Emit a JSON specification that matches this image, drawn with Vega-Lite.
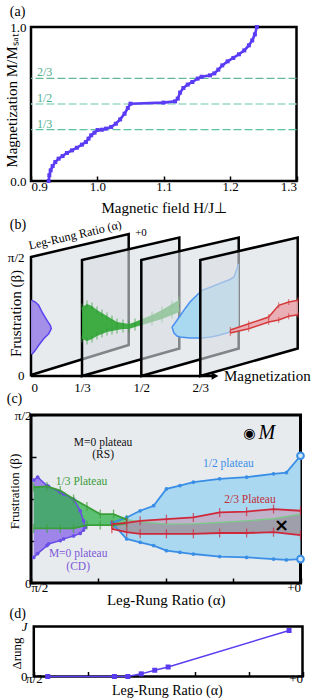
{
 "$schema": "https://vega.github.io/schema/vega-lite/v6.json",
 "padding": {"left": 3, "top": 3, "right": 0, "bottom": 0},
 "bounds": "flush",
 "spacing": 34,
 "resolve": {"scale": {"color": "independent"}},
 "config": {
  "view": {"stroke": null},
  "font": "Liberation Serif",
  "axis": {"labelFont": "Liberation Serif", "titleFont": "Liberation Serif", "labelColor": "black", "titleColor": "black", "titleFontWeight": "normal", "labelFontSize": 13, "titleFontSize": 15, "domain": false, "grid": false, "tickColor": "black", "tickWidth": 1.5},
  "text": {"font": "Liberation Serif"}
 },
 "datasets": {
  "a_curve": [
   {"H":0.9266,"M":0.0},{"H":0.9276,"M":0.037},{"H":0.9296,"M":0.069},{"H":0.9326,"M":0.097},{"H":0.9366,"M":0.123},{"H":0.9416,"M":0.145},{"H":0.9476,"M":0.162},{"H":0.9541,"M":0.182},{"H":0.9617,"M":0.199},{"H":0.9692,"M":0.216},{"H":0.9767,"M":0.236},{"H":0.9827,"M":0.253},{"H":0.9867,"M":0.275},{"H":0.9907,"M":0.297},{"H":0.9957,"M":0.314},{"H":1.0003,"M":0.331},{"H":1.0068,"M":0.333},{"H":1.0128,"M":0.34},{"H":1.0208,"M":0.351},{"H":1.0278,"M":0.372},{"H":1.0343,"M":0.4},{"H":1.0409,"M":0.437},{"H":1.0459,"M":0.474},{"H":1.0499,"M":0.502},{"H":1.0995,"M":0.509},{"H":1.117,"M":0.517},{"H":1.1211,"M":0.535},{"H":1.1246,"M":0.574},{"H":1.1296,"M":0.604},{"H":1.1361,"M":0.626},{"H":1.1431,"M":0.643},{"H":1.1511,"M":0.665},{"H":1.1571,"M":0.677},{"H":1.1697,"M":0.686},{"H":1.1762,"M":0.699},{"H":1.1822,"M":0.723},{"H":1.1882,"M":0.751},{"H":1.1962,"M":0.777},{"H":1.2048,"M":0.799},{"H":1.2133,"M":0.823},{"H":1.2213,"M":0.848},{"H":1.2283,"M":0.881},{"H":1.2333,"M":0.913},{"H":1.2373,"M":0.952},{"H":1.2403,"M":1.0}
  ],
  "a_levels": [{"level":0.3333,"label":"1/3"},{"level":0.5,"label":"1/2"},{"level":0.6667,"label":"2/3"}],
  "b_frames": [
   {"f":1,"u":0,"top":119,"bot":1},{"f":1,"u":97.7,"top":142,"bot":31},
   {"f":2,"u":51,"top":116,"bot":0},{"f":2,"u":148.3,"top":138.5,"bot":27.5},
   {"f":3,"u":110.3,"top":116,"bot":0},{"f":3,"u":207.7,"top":138.5,"bot":27.5},
   {"f":4,"u":169.3,"top":116,"bot":0},{"f":4,"u":266.7,"top":138.5,"bot":27.5}
  ],
  "b_purple": [
   {"v":75.7,"u":1},{"v":74,"u":4.3},{"v":70.7,"u":7.7},{"v":64,"u":11},{"v":55.7,"u":16},{"v":50.7,"u":19.3},{"v":47.3,"u":20.3},{"v":42.3,"u":17.7},{"v":37.3,"u":12.7},{"v":30.7,"u":7.7},{"v":25.7,"u":4.3},{"v":21.7,"u":1}
  ],
  "b_green": [
   {"u":51,"top":69,"bot":37},{"u":56,"top":72,"bot":35},{"u":61,"top":70,"bot":37},{"u":66,"top":66,"bot":40},{"u":71,"top":63,"bot":42},{"u":76,"top":60,"bot":44},{"u":81,"top":57,"bot":45},{"u":86,"top":54,"bot":46},{"u":92,"top":53,"bot":47},{"u":98,"top":52,"bot":47},{"u":104,"top":54,"bot":49},{"u":111,"top":57,"bot":51},{"u":121,"top":61,"bot":54},{"u":131,"top":66,"bot":57},{"u":141,"top":72,"bot":61},{"u":148,"top":76,"bot":64}
  ],
  "b_blue": [
   {"u":141,"top":49,"bot":49},{"u":143,"top":51.5,"bot":43},{"u":146,"top":55.7,"bot":40},{"u":149,"top":60,"bot":39},{"u":154,"top":67.3,"bot":38.5},{"u":159,"top":74,"bot":38},{"u":163,"top":78,"bot":38},{"u":171,"top":85.7,"bot":38},{"u":180,"top":89,"bot":39},{"u":188,"top":92.3,"bot":40.7},{"u":199,"top":96.5,"bot":44},{"u":203,"top":99,"bot":45},{"u":206,"top":107.3,"bot":45.7},{"u":207.7,"top":112.3,"bot":46}
  ],
  "b_red": [
   {"u":199.3,"top":46,"bot":43},{"u":217.7,"top":52.3,"bot":47.3},{"u":237.7,"top":59,"bot":54},{"u":247.7,"top":70.7,"bot":56},{"u":257.7,"top":74,"bot":59.7},{"u":267,"top":75.7,"bot":61.3}
  ],
  "c_blue": [
   {"x":1.2,"top":1.43,"bot":1.43},{"x":1.42,"top":1.56,"bot":1.05},{"x":1.62,"top":1.72,"bot":0.97},{"x":1.82,"top":1.84,"bot":0.89},{"x":2.01,"top":2.24,"bot":0.77},{"x":2.21,"top":2.32,"bot":0.73},{"x":2.41,"top":2.4,"bot":0.69},{"x":2.8,"top":2.48,"bot":0.63},{"x":3.2,"top":2.52,"bot":0.61},{"x":3.6,"top":2.6,"bot":0.57},{"x":3.79,"top":2.63,"bot":0.55},{"x":4.0,"top":3.03,"bot":0.57}
  ],
  "c_green": [
   {"x":0.04,"top":2.28,"bot":1.3},{"x":0.237,"top":2.3,"bot":1.3},{"x":0.435,"top":2.2,"bot":1.3},{"x":0.632,"top":2.0,"bot":1.3},{"x":0.83,"top":1.82,"bot":1.38},{"x":1.027,"top":1.64,"bot":1.38},{"x":1.225,"top":1.64,"bot":1.38},{"x":1.42,"top":1.51,"bot":1.42}
  ],
  "c_purple": [
   {"x":0.04,"top":2.45,"bot":0.61},{"x":0.099,"top":2.52,"bot":0.7},{"x":0.237,"top":2.32,"bot":0.89},{"x":0.26,"top":2.3,"bot":0.93},{"x":0.435,"top":2.16,"bot":1.01},{"x":0.484,"top":2.12,"bot":1.05},{"x":0.632,"top":2.0,"bot":1.12},{"x":0.73,"top":1.72,"bot":1.18},{"x":0.78,"top":1.48,"bot":1.26},{"x":0.805,"top":1.33,"bot":1.33}
  ],
  "c_red": [
   {"x":1.2,"top":1.4,"bot":1.29},{"x":1.42,"top":1.43,"bot":1.21},{"x":1.62,"top":1.48,"bot":1.17},{"x":2.01,"top":1.52,"bot":1.17},{"x":2.41,"top":1.56,"bot":1.17},{"x":2.8,"top":1.68,"bot":1.19},{"x":3.2,"top":1.7,"bot":1.19},{"x":3.6,"top":1.76,"bot":1.21},{"x":4.0,"top":1.72,"bot":1.14}
  ],
  "c_hatch": [
   {"x":1.2,"top":1.36,"bot":1.33},{"x":1.42,"top":1.51,"bot":1.21},{"x":1.62,"top":1.46,"bot":1.17},{"x":2.01,"top":1.4,"bot":1.17},{"x":2.41,"top":1.41,"bot":1.17},{"x":2.8,"top":1.44,"bot":1.19},{"x":3.2,"top":1.48,"bot":1.19},{"x":3.6,"top":1.53,"bot":1.21},{"x":4.0,"top":1.64,"bot":1.14}
  ],
  "c_texts": [
   {"x":1.07,"y":3.34,"text":"M=0 plateau","grp":"rs"},
   {"x":1.07,"y":3.04,"text":"(RS)","grp":"rs"},
   {"x":0.75,"y":2.4,"text":"1/3 Plateau","grp":"green"},
   {"x":2.93,"y":2.84,"text":"1/2 plateau","grp":"blue"},
   {"x":3.25,"y":1.97,"text":"2/3 Plateau","grp":"red"},
   {"x":0.7,"y":0.68,"text":"M=0 plateau","grp":"purple"},
   {"x":0.7,"y":0.38,"text":"(CD)","grp":"purple"}
  ],
  "d_gap": [
   {"a":0.26,"g":0},{"a":1.5,"g":0},{"a":1.75,"g":0},{"a":2.0,"g":0.053},{"a":2.25,"g":0.125},{"a":2.5,"g":0.19},{"a":4.75,"g":0.92}
  ]
 },
 "vconcat": [
  {
   "width": 265.5, "height": 154,
   "view": {"stroke": "black", "strokeWidth": 2.5},
   "layer": [
    {
     "data": {"name": "a_levels"},
     "mark": {"type": "rule", "strokeDash": [8, 3], "strokeWidth": 1.4},
     "encoding": {
      "y": {"field": "level", "type": "quantitative"},
      "color": {"field": "label", "type": "nominal", "scale": {"domain": ["1/3", "1/2", "2/3"], "range": ["#5cc4a0", "#9cdcc2", "#62b896"]}, "legend": null}
     }
    },
    {
     "data": {"name": "a_levels"},
     "mark": {"type": "text", "align": "left", "baseline": "alphabetic", "dy": -2, "fontSize": 12, "color": "#4cae8c"},
     "encoding": {
      "x": {"datum": 0.909, "type": "quantitative"},
      "y": {"field": "level", "type": "quantitative"},
      "text": {"field": "label"}
     }
    },
    {
     "data": {"name": "a_curve"},
     "mark": {"type": "line", "color": "#5b3cf5", "strokeWidth": 2.6, "point": {"filled": true, "shape": "square", "size": 16, "color": "#5b3cf5"}},
     "encoding": {
      "x": {"field": "H", "type": "quantitative", "scale": {"domain": [0.9, 1.3], "nice": false, "zero": false},
       "axis": {"values": [0.9, 1.0, 1.1, 1.2, 1.3], "format": ".1f", "tickSize": -5, "labelPadding": 4, "title": "Magnetic field  H/J⊥", "titleY": 26, "titleBaseline": "middle"}},
      "y": {"field": "M", "type": "quantitative", "scale": {"domain": [0, 1], "nice": false},
       "axis": {"values": [0, 1], "format": ".1f", "ticks": false, "labelPadding": 5, "title": "Magnetization  M/Mₛₐₜ", "titleX": -19.5, "titleY": 73, "titleAngle": 270, "titleBaseline": "middle", "titleAlign": "center"}}
     }
    },
    {
     "data": {"values": [{"t": "(a)"}]},
     "mark": {"type": "text", "align": "center", "baseline": "top", "fontSize": 14},
     "encoding": {
      "x": {"datum": 0.8797, "type": "quantitative"},
      "y": {"datum": 1.143, "type": "quantitative"},
      "text": {"field": "t"}
     }
    }
   ]
  },
  {
   "width": 266, "height": 166,
   "layer": [
    {
     "data": {"name": "b_frames"},
     "transform": [{"filter": "datum.f == 1"}],
     "mark": {"type": "area", "fill": "#d9dde2", "fillOpacity": 0.6, "stroke": "black", "strokeWidth": 2.5, "strokeJoin": "miter"},
     "encoding": {
      "x": {"field": "u", "type": "quantitative", "scale": {"domain": [0, 266], "nice": false, "zero": false},
       "axis": {"values": [0, 51, 110.3, 169.3], "labelExpr": "datum.value == 0 ? '0' : datum.value == 51 ? '1/3' : datum.value == 110.3 ? '1/2' : '2/3'", "ticks": false, "labelPadding": 0, "title": null}},
      "y": {"field": "top", "type": "quantitative", "scale": {"domain": [-5, 161], "nice": false, "zero": false},
       "axis": {"values": [1, 119], "labelExpr": "datum.value < 50 ? '0' : 'π/2'", "ticks": false, "labelPadding": 7, "title": "Frustration (β)", "titleX": -16, "titleY": 98, "titleAngle": 270, "titleBaseline": "middle", "titleAlign": "center"}},
      "y2": {"field": "bot"}
     }
    },
    {
     "data": {"name": "b_purple"},
     "mark": {"type": "area", "orient": "horizontal", "color": "#a08ae8", "opacity": 0.95},
     "encoding": {
      "y": {"field": "v", "type": "quantitative"},
      "x": {"field": "u", "type": "quantitative"},
      "x2": {"datum": 0}
     }
    },
    {
     "data": {"name": "b_purple"},
     "mark": {"type": "line", "color": "#5a45f0", "strokeWidth": 1.5},
     "encoding": {
      "y": {"field": "v", "type": "quantitative"},
      "x": {"field": "u", "type": "quantitative"},
      "order": {"field": "v"}
     }
    },
    {
     "data": {"name": "b_frames"},
     "transform": [{"filter": "datum.f == 2"}],
     "mark": {"type": "area", "fill": "#d9dde2", "fillOpacity": 0.6, "stroke": "black", "strokeWidth": 2.5, "strokeJoin": "miter"},
     "encoding": {
      "x": {"field": "u", "type": "quantitative"},
      "y": {"field": "top", "type": "quantitative"},
      "y2": {"field": "bot"}
     }
    },
    {
     "data": {"name": "b_green"},
     "mark": {"type": "area", "color": "#36a83a", "opacity": 0.95},
     "encoding": {
      "x": {"field": "u", "type": "quantitative"},
      "y": {"field": "top", "type": "quantitative"},
      "y2": {"field": "bot"}
     }
    },
    {
     "data": {"name": "b_green"},
     "transform": [{"fold": ["top", "bot"], "as": ["edge", "val"]}],
     "mark": {"type": "tick", "orient": "vertical", "size": 7, "thickness": 1, "color": "#2f9a35"},
     "encoding": {
      "x": {"field": "u", "type": "quantitative"},
      "y": {"field": "val", "type": "quantitative"}
     }
    },
    {
     "data": {"name": "b_frames"},
     "transform": [{"filter": "datum.f == 3"}],
     "mark": {"type": "area", "fill": "#d9dde2", "fillOpacity": 0.6, "stroke": "black", "strokeWidth": 2.5, "strokeJoin": "miter"},
     "encoding": {
      "x": {"field": "u", "type": "quantitative"},
      "y": {"field": "top", "type": "quantitative"},
      "y2": {"field": "bot"}
     }
    },
    {
     "data": {"name": "b_blue"},
     "mark": {"type": "area", "color": "#a9d9f1", "opacity": 1},
     "encoding": {
      "x": {"field": "u", "type": "quantitative"},
      "y": {"field": "top", "type": "quantitative"},
      "y2": {"field": "bot"}
     }
    },
    {
     "data": {"name": "b_blue"},
     "transform": [{"fold": ["top", "bot"], "as": ["edge", "val"]}],
     "mark": {"type": "line", "color": "#4a90ee", "strokeWidth": 1.5},
     "encoding": {
      "x": {"field": "u", "type": "quantitative"},
      "y": {"field": "val", "type": "quantitative"},
      "detail": {"field": "edge"}
     }
    },
    {
     "data": {"name": "b_frames"},
     "transform": [{"filter": "datum.f == 4"}],
     "mark": {"type": "area", "fill": "#d9dde2", "fillOpacity": 0.6, "stroke": "black", "strokeWidth": 2.5, "strokeJoin": "miter"},
     "encoding": {
      "x": {"field": "u", "type": "quantitative"},
      "y": {"field": "top", "type": "quantitative"},
      "y2": {"field": "bot"}
     }
    },
    {
     "data": {"name": "b_red"},
     "mark": {"type": "area", "color": "#eaa8ad", "opacity": 0.9},
     "encoding": {
      "x": {"field": "u", "type": "quantitative"},
      "y": {"field": "top", "type": "quantitative"},
      "y2": {"field": "bot"}
     }
    },
    {
     "data": {"name": "b_red"},
     "transform": [{"fold": ["top", "bot"], "as": ["edge", "val"]}],
     "mark": {"type": "line", "color": "#d43a3a", "strokeWidth": 1.5},
     "encoding": {
      "x": {"field": "u", "type": "quantitative"},
      "y": {"field": "val", "type": "quantitative"},
      "detail": {"field": "edge"}
     }
    },
    {
     "data": {"name": "b_red"},
     "transform": [{"fold": ["top", "bot"], "as": ["edge", "val"]}],
     "mark": {"type": "tick", "orient": "vertical", "size": 6, "thickness": 1, "color": "#d43a3a"},
     "encoding": {
      "x": {"field": "u", "type": "quantitative"},
      "y": {"field": "val", "type": "quantitative"}
     }
    },
    {
     "data": {"values": [{}]},
     "mark": {"type": "rule", "color": "black", "strokeWidth": 2.5},
     "encoding": {
      "x": {"datum": 0, "type": "quantitative"},
      "x2": {"datum": 182},
      "y": {"datum": 0, "type": "quantitative"}
     }
    },
    {
     "data": {"values": [{}]},
     "mark": {"type": "point", "shape": "triangle-right", "filled": true, "size": 60, "color": "black", "opacity": 1},
     "encoding": {
      "x": {"datum": 184, "type": "quantitative"},
      "y": {"datum": 0, "type": "quantitative"}
     }
    },
    {
     "data": {"values": [{"t": "Magnetization"}]},
     "mark": {"type": "text", "align": "left", "baseline": "middle", "fontSize": 15},
     "encoding": {
      "x": {"datum": 193, "type": "quantitative"},
      "y": {"datum": 0, "type": "quantitative"},
      "text": {"field": "t"}
     }
    },
    {
     "data": {"values": [{"t": "Leg-Rung Ratio (α)"}]},
     "mark": {"type": "text", "align": "center", "baseline": "middle", "fontSize": 12, "angle": 347},
     "encoding": {
      "x": {"datum": 44, "type": "quantitative"},
      "y": {"datum": 141, "type": "quantitative"},
      "text": {"field": "t"}
     }
    },
    {
     "data": {"values": [{"t": "+0"}]},
     "mark": {"type": "text", "align": "center", "baseline": "middle", "fontSize": 11},
     "encoding": {
      "x": {"datum": 110, "type": "quantitative"},
      "y": {"datum": 143, "type": "quantitative"},
      "text": {"field": "t"}
     }
    },
    {
     "data": {"values": [{"t": "(b)"}]},
     "mark": {"type": "text", "align": "center", "baseline": "middle", "fontSize": 14},
     "encoding": {
      "x": {"datum": -13, "type": "quantitative"},
      "y": {"datum": 151, "type": "quantitative"},
      "text": {"field": "t"}
     }
    }
   ]
  },
  {
   "width": 269.5, "height": 168,
   "view": {"fill": "#e8ebee", "stroke": "black", "strokeWidth": 3},
   "layer": [
    {
     "data": {"name": "c_blue"},
     "mark": {"type": "area", "color": "#a9d8f0", "opacity": 1},
     "encoding": {
      "x": {"field": "x", "type": "quantitative", "scale": {"domain": [0, 4], "nice": false, "zero": false},
       "axis": {"values": [0, 1, 2, 3, 4], "labelExpr": "datum.value == 0 ? 'π/2' : datum.value == 4 ? '+0' : ''", "tickSize": -5, "labelPadding": 3, "title": "Leg-Rung Ratio (α)", "titleY": 16, "titleBaseline": "middle"}},
      "y": {"field": "top", "type": "quantitative", "scale": {"domain": [0, 4], "nice": false, "zero": false},
       "axis": {"values": [0, 1, 2, 3, 4], "labelExpr": "datum.value == 0 ? '0' : datum.value == 4 ? 'π/2' : ''", "tickSize": -5, "labelPadding": 5, "title": "Frustration (β)", "titleFontSize": 13, "titleX": -16.5, "titleY": 76, "titleAngle": 270, "titleBaseline": "middle", "titleAlign": "center"}},
      "y2": {"field": "bot"}
     }
    },
    {
     "data": {"name": "c_purple"},
     "mark": {"type": "area", "color": "#9b80e8", "opacity": 0.95},
     "encoding": {
      "x": {"field": "x", "type": "quantitative"},
      "y": {"field": "top", "type": "quantitative"},
      "y2": {"field": "bot"}
     }
    },
    {
     "data": {"name": "c_green"},
     "mark": {"type": "area", "color": "#2fb34a", "opacity": 0.75},
     "encoding": {
      "x": {"field": "x", "type": "quantitative"},
      "y": {"field": "top", "type": "quantitative"},
      "y2": {"field": "bot"}
     }
    },
    {
     "data": {"name": "c_red"},
     "mark": {"type": "area", "color": "#e07a90", "opacity": 0.4},
     "encoding": {
      "x": {"field": "x", "type": "quantitative"},
      "y": {"field": "top", "type": "quantitative"},
      "y2": {"field": "bot"}
     }
    },
    {
     "data": {"name": "c_hatch"},
     "mark": {"type": "area", "color": "#7f898c", "opacity": 0.5},
     "encoding": {
      "x": {"field": "x", "type": "quantitative"},
      "y": {"field": "top", "type": "quantitative"},
      "y2": {"field": "bot"}
     }
    },
    {
     "data": {"name": "c_hatch"},
     "mark": {"type": "line", "color": "#7cc98a", "strokeWidth": 1.3},
     "encoding": {
      "x": {"field": "x", "type": "quantitative"},
      "y": {"field": "top", "type": "quantitative"}
     }
    },
    {
     "data": {"name": "c_blue"},
     "transform": [{"fold": ["top", "bot"], "as": ["edge", "val"]}],
     "mark": {"type": "line", "color": "#3a8ee6", "strokeWidth": 1.8, "point": {"filled": true, "size": 14, "color": "#3a8ee6"}},
     "encoding": {
      "x": {"field": "x", "type": "quantitative"},
      "y": {"field": "val", "type": "quantitative"},
      "detail": {"field": "edge"}
     }
    },
    {
     "data": {"name": "c_blue"},
     "transform": [{"filter": "datum.x == 4"}, {"fold": ["top", "bot"], "as": ["edge", "val"]}],
     "mark": {"type": "point", "shape": "circle", "size": 45, "filled": false, "stroke": "#3a8ee6", "strokeWidth": 2, "fill": "#cfe6f5", "opacity": 1},
     "encoding": {
      "x": {"field": "x", "type": "quantitative"},
      "y": {"field": "val", "type": "quantitative"}
     }
    },
    {
     "data": {"name": "c_purple"},
     "transform": [{"fold": ["top", "bot"], "as": ["edge", "val"]}],
     "mark": {"type": "line", "color": "#6a4fe6", "strokeWidth": 1.5, "point": {"filled": true, "size": 14, "color": "#6a4fe6"}},
     "encoding": {
      "x": {"field": "x", "type": "quantitative"},
      "y": {"field": "val", "type": "quantitative"},
      "detail": {"field": "edge"}
     }
    },
    {
     "data": {"name": "c_green"},
     "transform": [{"fold": ["top", "bot"], "as": ["edge", "val"]}],
     "mark": {"type": "line", "color": "#3a9e3a", "strokeWidth": 1.8},
     "encoding": {
      "x": {"field": "x", "type": "quantitative"},
      "y": {"field": "val", "type": "quantitative"},
      "detail": {"field": "edge"}
     }
    },
    {
     "data": {"name": "c_green"},
     "transform": [{"fold": ["top", "bot"], "as": ["edge", "val"]}],
     "mark": {"type": "tick", "orient": "vertical", "size": 9, "thickness": 1.3, "color": "#3a9e3a"},
     "encoding": {
      "x": {"field": "x", "type": "quantitative"},
      "y": {"field": "val", "type": "quantitative"}
     }
    },
    {
     "data": {"name": "c_red"},
     "transform": [{"fold": ["top", "bot"], "as": ["edge", "val"]}],
     "mark": {"type": "line", "color": "#d0283a", "strokeWidth": 1.8},
     "encoding": {
      "x": {"field": "x", "type": "quantitative"},
      "y": {"field": "val", "type": "quantitative"},
      "detail": {"field": "edge"}
     }
    },
    {
     "data": {"name": "c_red"},
     "transform": [{"fold": ["top", "bot"], "as": ["edge", "val"]}],
     "mark": {"type": "tick", "orient": "vertical", "size": 9, "thickness": 1.3, "color": "#d0283a"},
     "encoding": {
      "x": {"field": "x", "type": "quantitative"},
      "y": {"field": "val", "type": "quantitative"}
     }
    },
    {
     "data": {"name": "c_texts"},
     "mark": {"type": "text", "align": "center", "baseline": "middle", "fontSize": 11.5},
     "encoding": {
      "x": {"field": "x", "type": "quantitative"},
      "y": {"field": "y", "type": "quantitative"},
      "text": {"field": "text"},
      "color": {"field": "grp", "type": "nominal", "scale": {"domain": ["rs", "green", "blue", "red", "purple"], "range": ["#111111", "#3a9a3a", "#3a8ee6", "#c0303a", "#7a5ad8"]}, "legend": null}
     }
    },
    {
     "data": {"values": [{"t": "×"}]},
     "mark": {"type": "text", "align": "center", "baseline": "middle", "fontSize": 18, "fontWeight": "bold", "font": "DejaVu Sans"},
     "encoding": {
      "x": {"datum": 3.72, "type": "quantitative"},
      "y": {"datum": 1.35, "type": "quantitative"},
      "text": {"field": "t"}
     }
    },
    {
     "data": {"values": [{"t": "◉"}]},
     "mark": {"type": "text", "align": "center", "baseline": "middle", "fontSize": 14, "font": "DejaVu Sans"},
     "encoding": {
      "x": {"datum": 3.24, "type": "quantitative"},
      "y": {"datum": 3.55, "type": "quantitative"},
      "text": {"field": "t"}
     }
    },
    {
     "data": {"values": [{"t": "M"}]},
     "mark": {"type": "text", "align": "center", "baseline": "middle", "fontSize": 20, "fontStyle": "italic"},
     "encoding": {
      "x": {"datum": 3.5, "type": "quantitative"},
      "y": {"datum": 3.57, "type": "quantitative"},
      "text": {"field": "t"}
     }
    },
    {
     "data": {"values": [{"t": "(c)"}]},
     "mark": {"type": "text", "align": "center", "baseline": "middle", "fontSize": 14},
     "encoding": {
      "x": {"datum": -0.245, "type": "quantitative"},
      "y": {"datum": 4.38, "type": "quantitative"},
      "text": {"field": "t"}
     }
    }
   ]
  },
  {
   "width": 271.5, "height": 59.5,
   "layer": [
    {
     "data": {"values": [{}]},
     "mark": {"type": "rect", "fill": "transparent", "stroke": "black", "strokeWidth": 2.5},
     "encoding": {
      "x": {"datum": 0, "type": "quantitative", "scale": {"domain": [-0.052, 5], "nice": false, "zero": false},
       "axis": {"values": [0, 1, 2, 3, 4, 5], "labelExpr": "datum.value == 0 ? 'π/2' : datum.value == 5 ? '+0' : ''", "tickSize": -5, "labelPadding": 1, "title": "Leg-Rung Ratio (α)", "titleFontSize": 14, "titleY": 14, "titleBaseline": "middle"}},
      "x2": {"datum": 5},
      "y": {"datum": 0, "type": "quantitative", "scale": {"domain": [0, 1.19], "nice": false, "zero": false},
       "axis": {"values": [0, 1], "labelExpr": "datum.value == 0 ? '0' : 'J'", "labelFontStyle": {"condition": {"test": "datum.value == 1", "value": "italic"}, "value": "normal"}, "ticks": false, "labelPadding": 4, "title": "Δrung", "titleFontSize": 13, "titleX": -14.5, "titleY": 36, "titleAngle": 270, "titleBaseline": "middle", "titleAlign": "center"}},
      "y2": {"datum": 1}
     }
    },
    {
     "data": {"name": "d_gap"},
     "mark": {"type": "line", "color": "#5a3cf0", "strokeWidth": 1.5, "point": {"filled": true, "shape": "square", "size": 25, "color": "#5a3cf0"}},
     "encoding": {
      "x": {"field": "a", "type": "quantitative"},
      "y": {"field": "g", "type": "quantitative"}
     }
    },
    {
     "data": {"values": [{"t": "(d)"}]},
     "mark": {"type": "text", "align": "center", "baseline": "middle", "fontSize": 14},
     "encoding": {
      "x": {"datum": -0.3, "type": "quantitative"},
      "y": {"datum": 1.25, "type": "quantitative"},
      "text": {"field": "t"}
     }
    }
   ]
  }
 ]
}
